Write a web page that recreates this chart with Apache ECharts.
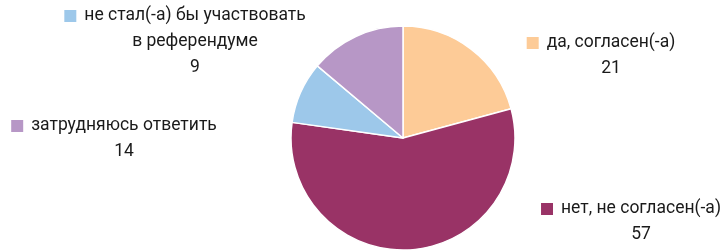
<!DOCTYPE html>
<html>
<head>
<meta charset="utf-8">
<script src="https://cdn.jsdelivr.net/npm/echarts@6/dist/echarts.min.js"></script>
<style>
  html, body { margin: 0; padding: 0; background: #fff; }
  #chart { width: 724px; height: 250px; }
</style>
</head>
<body>
<div id="chart"></div>
<script>
const categories = ['да, согласен(-а)', 'нет, не согласен(-а)', 'не стал(-а) бы участвовать\nв референдуме', 'затрудняюсь ответить'];
const values = [21, 57, 9, 14];
const colors = ['#FDCB97', '#993366', '#9DC8EA', '#B797C6'];

// where each label block sits (center x, top y)
const labelPos = [
  { x: 611, y: 30 },
  { x: 641, y: 196 },
  { x: 195, y: 3 },
  { x: 124, y: 113 }
];

const chart = echarts.init(document.getElementById('chart'));

const rich = {
  name: { fontSize: 17.5, lineHeight: 26, color: '#1a1a1a', fontFamily: 'Roboto' },
  val: { fontSize: 17.5, lineHeight: 26, color: '#1a1a1a', fontFamily: 'Roboto' },
  gap: { width: 8 },
  sp: { width: 20 }
};
colors.forEach((c, i) => {
  rich['sq' + i] = { width: 12, height: 12, backgroundColor: c };
});

chart.setOption({
  animation: false,
  series: [{
    type: 'pie',
    center: [403, 138],
    radius: 112,
    startAngle: 90,
    clockwise: true,
    itemStyle: { borderColor: '#fff', borderWidth: 1.5 },
    labelLine: { show: false },
    label: {
      show: true,
      position: 'outside',
      formatter: (p) => {
        const lines = p.name.split('\n');
        let s = '{sq' + p.dataIndex + '|}{gap|}{name|' + lines[0] + '}{sp|}';
        for (let k = 1; k < lines.length; k++) s += '\n{name|' + lines[k] + '}';
        return s + '\n{val|' + p.value + '}';
      },
      rich: rich
    },
    labelLayout: (params) => {
      const pos = labelPos[params.dataIndex];
      return { x: pos.x, y: pos.y, align: 'center', verticalAlign: 'top' };
    },
    data: categories.map((name, i) => ({
      name: name,
      value: values[i],
      itemStyle: { color: colors[i] }
    }))
  }]
});
</script>
</body>
</html>
